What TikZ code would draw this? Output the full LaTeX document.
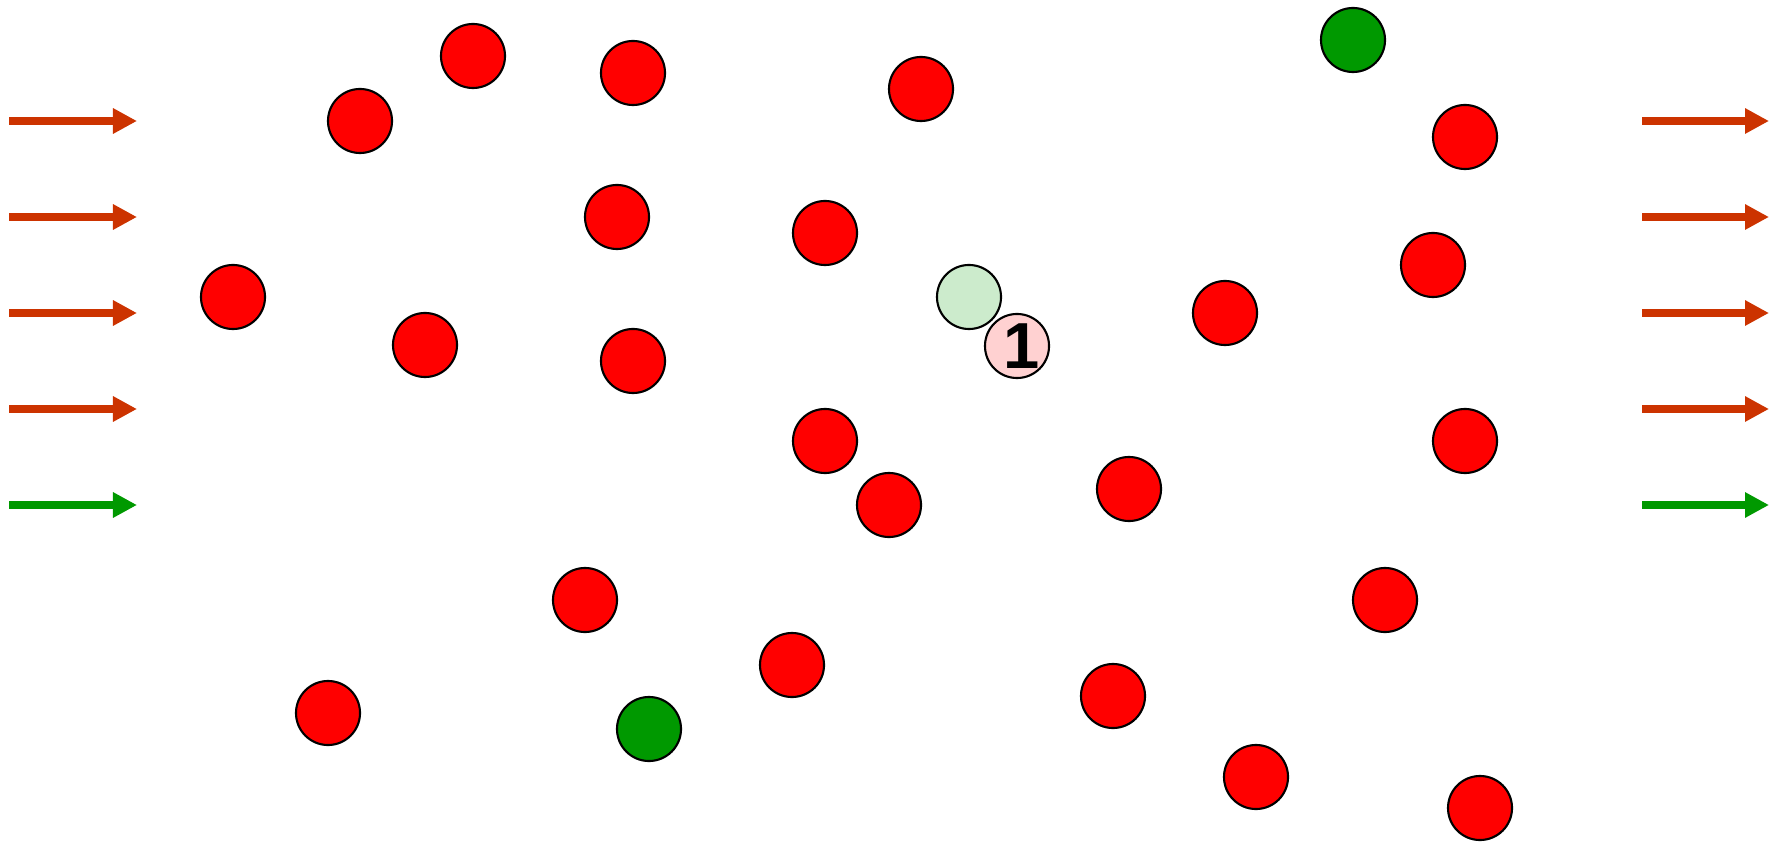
\documentclass[tikz,border=0pt]{standalone}
\usepackage{fontspec}
\setmainfont{Liberation Sans}
\newfontfamily\tagfont{Liberation Sans}
\usetikzlibrary{arrows.meta}
\definecolor{ballred}{HTML}{FF0000}
\definecolor{ballgreen}{HTML}{009900}
\definecolor{palegreen}{HTML}{CCEBCC}
\definecolor{palered}{HTML}{FFD1D1}
\definecolor{flowred}{HTML}{CC3300}

\begin{document}
\begin{tikzpicture}[x=0.01cm, y=-0.01cm,
  ball/.style={circle, draw, line width=0.6pt, minimum size=0.64cm, inner sep=0pt},
  redball/.style={ball, fill=ballred},
  greenball/.style={ball, fill=ballgreen},
  flow/.style={line width=2.1pt, draw=flowred,
               -{Triangle[length=0.24cm, width=0.24cm]}}]
  \useasboundingbox (0,0) rectangle (1770,843);
  % inflow and outflow
  \foreach \y [count=\k] in {121,217,313,409} {
    \coordinate (in\k)  at (9,\y);    \coordinate (in\k e)  at (137,\y);
    \coordinate (out\k) at (1642,\y); \coordinate (out\k e) at (1769,\y);
    \draw[flow] (in\k) -- (in\k e);
    \draw[flow] (out\k) -- (out\k e);
  }
  \coordinate (in5)  at (9,505);    \coordinate (in5e)  at (137,505);
  \coordinate (out5) at (1642,505); \coordinate (out5e) at (1769,505);
  \draw[flow, draw=ballgreen] (in5) -- (in5e);
  \draw[flow, draw=ballgreen] (out5) -- (out5e);
  % red particles
  \foreach \x/\y [count=\i] in {233/297, 360/121, 473/56, 633/73, 617/217,
      425/345, 633/361, 328/713, 585/600, 792/665, 889/505, 825/441,
      825/233, 921/89, 1225/313, 1129/489, 1113/696, 1256/777,
      1465/137, 1433/265, 1465/441, 1385/600, 1480/808}
    \node[redball] (r\i) at (\x,\y) {};
  % green particles
  \node[greenball] (g1) at (649,729) {};
  \node[greenball] (g2) at (1353,40) {};
  % tagged pair
  \node[ball, fill=palegreen] (pg) at (969,297) {};
  \node[ball, fill=palered] (pr) at (1017,346) {};
  \node[font=\tagfont\bfseries\fontsize{18.5}{18.5}\selectfont, inner sep=0pt] (lbl)
    at ([xshift=0.05cm]pr.center) {1};
\end{tikzpicture}
\end{document}
